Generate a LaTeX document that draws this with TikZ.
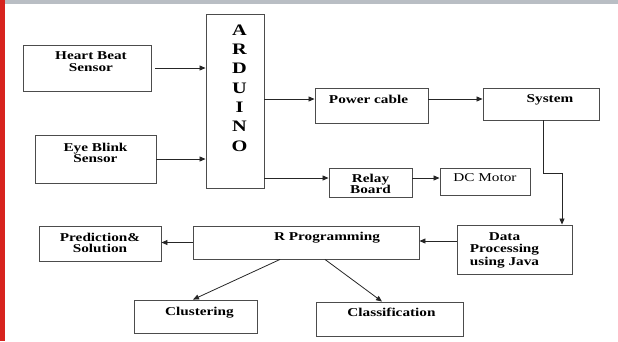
\documentclass[tikz,border=0pt]{standalone}
\usepackage{fontspec}
\setmainfont{Liberation Serif}[FakeStretch=1.27]
\usetikzlibrary{arrows.meta,calc}
\definecolor{barred}{RGB}{215,35,30}
\definecolor{bargray}{RGB}{185,190,196}
\tikzset{blk/.style={draw=black!70, line width=0.9pt, inner sep=0pt}}
\tikzset{txt/.style={anchor=north, inner sep=0pt, align=center, font=\fontsize{12}{11.5}\selectfont\bfseries}}
\tikzset{arr/.style={-{Triangle[length=6pt,width=5pt]}, black!85, line width=0.8pt}}

\begin{document}
\begin{tikzpicture}[x=1pt,y=-1pt]
    \useasboundingbox (0,0) rectangle (618,341);
    \fill [bargray] (0,0) rectangle (618,4);
    \fill [barred] (0,0) rectangle (4.5,341);
    \node [blk,minimum width=128,minimum height=46,label={[txt,yshift=-7,xshift=4]north:Heart Beat\\Sensor}] (hb) at (87,68) {};
    \node [blk,minimum width=121,minimum height=48,label={[txt,yshift=-8]north:Eye Blink\\Sensor}] (eb) at (95.5,159) {};
    \node [blk,minimum width=58,minimum height=174,label={[txt,font=\fontsize{16}{19.3}\selectfont\bfseries,yshift=-11,xshift=4.5]north:A\\R\\D\\U\\I\\N\\O}] (ard) at (235,101) {};
    \node [blk,minimum width=113,minimum height=35,label={[txt,yshift=-7,xshift=-3]north:Power cable}] (pc) at (371.5,105.5) {};
    \node [blk,minimum width=116,minimum height=32,label={[txt,yshift=-6.5,xshift=9]north:System}] (sys) at (541,104) {};
    \node [blk,minimum width=83,minimum height=29,label={[txt,yshift=-6]north:Relay\\Board}] (rb) at (370.5,182.5) {};
    \node [blk,minimum width=90,minimum height=27,label={[txt,yshift=-6,font=\fontsize{12}{11.5}\selectfont]north:DC Motor}] (dc) at (485,181.5) {};
    \node [blk,minimum width=115,minimum height=49,label={[txt,yshift=-8,xshift=-10,font=\fontsize{12}{12.2}\selectfont\bfseries]north:Data\\Processing\\using Java}] (dp) at (514.5,249.5) {};
    \node [blk,minimum width=226,minimum height=33,label={[txt,yshift=-6,xshift=21]north:R Programming}] (rp) at (306,242.5) {};
    \node [blk,minimum width=122,minimum height=35,label={[txt,yshift=-7]north:Prediction\&\\Solution}] (ps) at (100,243.5) {};
    \node [blk,minimum width=123,minimum height=33,label={[txt,yshift=-7,xshift=4]north:Clustering}] (cl) at (195.5,316.5) {};
    \node [blk,minimum width=147,minimum height=34,label={[txt,yshift=-6,xshift=2]north:Classification}] (cf) at (389.5,319) {};
    \coordinate (pcin) at ([yshift=6.5pt]pc.west);
    \coordinate (rbin) at ([yshift=4.5pt]rb.west);
    \coordinate (dpout) at ([yshift=8.5pt]dp.west);
    \draw [arr,shorten <=4pt] (hb.east) -- (hb.east -| ard.west);
    \draw [arr] (eb.east) -- (eb.east -| ard.west);
    \draw [arr] (ard.east |- pcin) -- (pcin);
    \draw [arr] (pcin -| pc.east) -- (pcin -| sys.west);
    \draw [arr] ([xshift=2pt]sys.south) -- ++(0,53) -| ([xshift=47.5pt]dp.north);
    \draw [arr] (ard.east |- rbin) -- (rbin);
    \draw [arr] (rbin -| rb.east) -- (rbin -| dc.west);
    \draw [arr] (dpout) -- (dpout -| rp.east);
    \draw [arr] (rp.west) -- (rp.west -| ps.east);
    \draw [arr] ([xshift=-26pt]rp.south) -- ([xshift=-2.5pt]cl.north);
    \draw [arr] ([xshift=19pt]rp.south) -- ([xshift=-7.5pt]cf.north);
\end{tikzpicture}
\end{document}
